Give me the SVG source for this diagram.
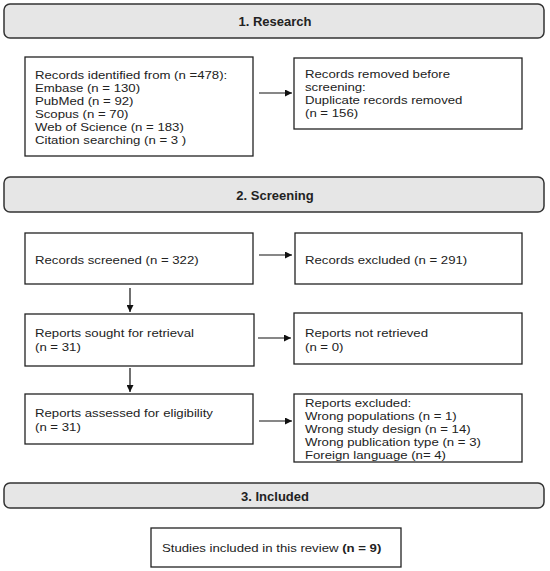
<svg xmlns="http://www.w3.org/2000/svg" width="550" height="571" viewBox="0 0 550 571">
<defs>
<style>
.hdr{fill:#e6e6e6;stroke:#333;stroke-width:1.5}
.box{fill:#fff;stroke:#222;stroke-width:1.3}
.t{font-family:"Liberation Sans",Arial,sans-serif;font-size:11px;fill:#222}
.h{font-family:"Liberation Sans",Arial,sans-serif;font-size:13px;font-weight:bold;fill:#222;text-anchor:middle}
.c{stroke:#111;stroke-width:1.2;fill:none}
</style>
<marker id="ah" viewBox="0 0 10 10" refX="10" refY="5" markerWidth="7" markerHeight="7" markerUnits="userSpaceOnUse" orient="auto">
<path d="M0,0 L10,5 L0,10 z" fill="#111"/>
</marker>
</defs>
<rect width="550" height="571" fill="#fff"/>
<g id="header1"><rect class="hdr" x="4" y="4" width="540" height="34" rx="6"/><text class="h" x="275" y="26">1. Research</text></g>
<g id="identified"><rect class="box" x="25" y="57" width="228" height="99"/>
<g transform="translate(35,0) scale(1.2,1)">
<text class="t" x="0" y="79">Records identified from (n =478):</text>
<text class="t" x="0" y="92">Embase (n = 130)</text>
<text class="t" x="0" y="105">PubMed (n = 92)</text>
<text class="t" x="0" y="118">Scopus (n = 70)</text>
<text class="t" x="0" y="131">Web of Science (n = 183)</text>
<text class="t" x="0" y="144">Citation searching (n = 3 )</text></g></g>
<g id="removed"><rect class="box" x="294" y="58" width="228" height="71"/>
<g transform="translate(305,0) scale(1.2,1)">
<text class="t" x="0" y="78">Records removed before</text>
<text class="t" x="0" y="91">screening:</text>
<text class="t" x="0" y="104">Duplicate records removed</text>
<text class="t" x="0" y="117">(n = 156)</text></g></g>
<g id="header2"><rect class="hdr" x="4" y="177" width="540" height="35" rx="6"/><text class="h" x="275" y="200">2. Screening</text></g>
<g id="screened"><rect class="box" x="25" y="233" width="228" height="51"/>
<g transform="translate(35,0) scale(1.2,1)"><text class="t" x="0" y="264">Records screened (n = 322)</text></g></g>
<g id="excluded"><rect class="box" x="295" y="233" width="227" height="51"/>
<g transform="translate(305,0) scale(1.2,1)"><text class="t" x="0" y="264">Records excluded (n = 291)</text></g></g>
<g id="sought"><rect class="box" x="25" y="314" width="229" height="52"/>
<g transform="translate(35,0) scale(1.2,1)"><text class="t" x="0" y="337">Reports sought for retrieval</text><text class="t" x="0" y="351">(n = 31)</text></g></g>
<g id="notretrieved"><rect class="box" x="294" y="313" width="228" height="51"/>
<g transform="translate(305,0) scale(1.2,1)"><text class="t" x="0" y="337">Reports not retrieved</text><text class="t" x="0" y="351">(n = 0)</text></g></g>
<g id="assessed"><rect class="box" x="25" y="394" width="228" height="50"/>
<g transform="translate(35,0) scale(1.2,1)"><text class="t" x="0" y="417">Reports assessed for eligibility</text><text class="t" x="0" y="431">(n = 31)</text></g></g>
<g id="reportsexcluded"><rect class="box" x="294" y="394" width="228" height="68"/>
<g transform="translate(305,0) scale(1.2,1)">
<text class="t" x="0" y="407">Reports excluded:</text>
<text class="t" x="0" y="420">Wrong populations (n = 1)</text>
<text class="t" x="0" y="433">Wrong study design (n = 14)</text>
<text class="t" x="0" y="446">Wrong publication type (n = 3)</text>
<text class="t" x="0" y="459">Foreign language (n= 4)</text></g></g>
<g id="header3"><rect class="hdr" x="4" y="483" width="540" height="25" rx="6"/><text class="h" x="275" y="501">3. Included</text></g>
<g id="included"><rect class="box" x="151" y="528" width="250" height="39"/>
<g transform="translate(162,0) scale(1.2,1)"><text class="t" x="0" y="552">Studies included in this review <tspan font-weight="bold">(n = 9)</tspan></text></g></g>
<g id="connectors">
<line class="c" x1="259" y1="93" x2="292" y2="93" marker-end="url(#ah)"/>
<line class="c" x1="259" y1="255" x2="292" y2="255" marker-end="url(#ah)"/>
<line class="c" x1="258" y1="338" x2="291" y2="338" marker-end="url(#ah)"/>
<line class="c" x1="259" y1="421" x2="292" y2="421" marker-end="url(#ah)"/>
<line class="c" x1="130" y1="288" x2="130" y2="312" marker-end="url(#ah)"/>
<line class="c" x1="130" y1="368" x2="130" y2="392" marker-end="url(#ah)"/>
</g>
</svg>
